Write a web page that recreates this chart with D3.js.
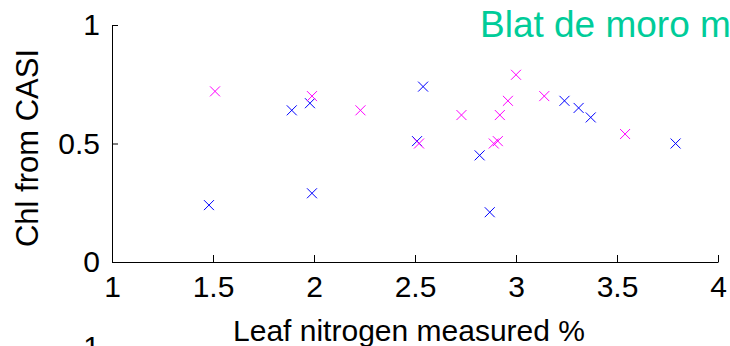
<!DOCTYPE html>
<html>
<head>
<meta charset="utf-8">
<script src="https://cdn.jsdelivr.net/npm/d3@7"></script>
<style>
  html, body { margin: 0; padding: 0; background: #fff; overflow: hidden; }
  svg { display: block; font-family: "Liberation Sans", Arial, sans-serif; }
</style>
</head>
<body>
<svg id="chart" width="730" height="346"></svg>
<script>
// Leaf nitrogen (%) vs chlorophyll estimated from CASI imagery
const blueNitrogen    = [1.98, 1.89, 1.99, 1.48, 2.54, 2.51, 3.24, 3.31, 3.37, 2.82, 2.87, 3.79];
const blueChl         = [0.67, 0.64, 0.29, 0.24, 0.74, 0.51, 0.68, 0.65, 0.61, 0.45, 0.21, 0.50];
const magentaNitrogen = [1.51, 1.99, 2.23, 2.52, 2.73, 3.00, 3.14, 2.96, 2.92, 2.91, 2.89, 3.54];
const magentaChl      = [0.72, 0.70, 0.64, 0.50, 0.62, 0.79, 0.70, 0.68, 0.62, 0.51, 0.50, 0.54];
const xTicks = [1, 1.5, 2, 2.5, 3, 3.5, 4];
const yTicks = [0, 0.5, 1];

const svg = d3.select("#chart");

const x = d3.scaleLinear().domain([1, 4]).range([112, 718]);
const y = d3.scaleLinear().domain([0, 1]).range([262, 25]);

// Axes: only left and bottom, ticks pointing inward
const xAxis = d3.axisBottom(x)
  .tickValues(xTicks)
  .tickFormat(d3.format("~g"))
  .tickSizeInner(-7)
  .tickSizeOuter(0)
  .tickPadding(14);
const yAxis = d3.axisLeft(y)
  .tickValues(yTicks)
  .tickFormat(d3.format("~g"))
  .tickSizeInner(-6)
  .tickSizeOuter(0)
  .tickPadding(12);

const gx = svg.append("g").attr("transform", `translate(0,${y(0)})`).call(xAxis);
const gy = svg.append("g").attr("transform", `translate(${x(1)},0)`).call(yAxis);
[gx, gy].forEach(g => {
  g.selectAll("path.domain").attr("stroke", "#000").attr("stroke-width", 1);
  g.selectAll(".tick line").attr("stroke", "#000").attr("stroke-width", 1);
  g.selectAll(".tick text")
    .attr("font-size", 30)
    .attr("font-family", "Liberation Sans, Arial, sans-serif")
    .attr("fill", "#000");
});

// Cross markers
const cross = "M-5,-5L5,5M-5,5L5,-5";
function drawSeries(xs, ys, color) {
  svg.append("g")
    .selectAll("path")
    .data(xs.map((v, i) => [v, ys[i]]))
    .join("path")
    .attr("d", cross)
    .attr("transform", d => `translate(${x(d[0])},${y(d[1])})`)
    .attr("fill", "none")
    .attr("stroke", color)
    .attr("stroke-width", 1);
}
drawSeries(blueNitrogen, blueChl, "#0000ff");
drawSeries(magentaNitrogen, magentaChl, "#ff00ff");

// Axis titles
svg.append("text")
  .attr("x", 409)
  .attr("y", 341)
  .attr("text-anchor", "middle")
  .attr("font-size", 30)
  .attr("fill", "#000")
  .text("Leaf nitrogen measured %");

svg.append("text")
  .attr("transform", "translate(38,148) rotate(-90)")
  .attr("text-anchor", "middle")
  .attr("font-size", 31)
  .attr("fill", "#000")
  .text("Chl from CASI");

// Panel title
svg.append("text")
  .attr("x", 480)
  .attr("y", 37)
  .attr("font-size", 37)
  .attr("fill", "#00cc99")
  .text("Blat de moro m");

// Top tick label of the panel below (only its top shows)
svg.append("text")
  .attr("x", 100)
  .attr("y", 357)
  .attr("text-anchor", "end")
  .attr("font-size", 30)
  .attr("fill", "#000")
  .text("1");
</script>
</body>
</html>
